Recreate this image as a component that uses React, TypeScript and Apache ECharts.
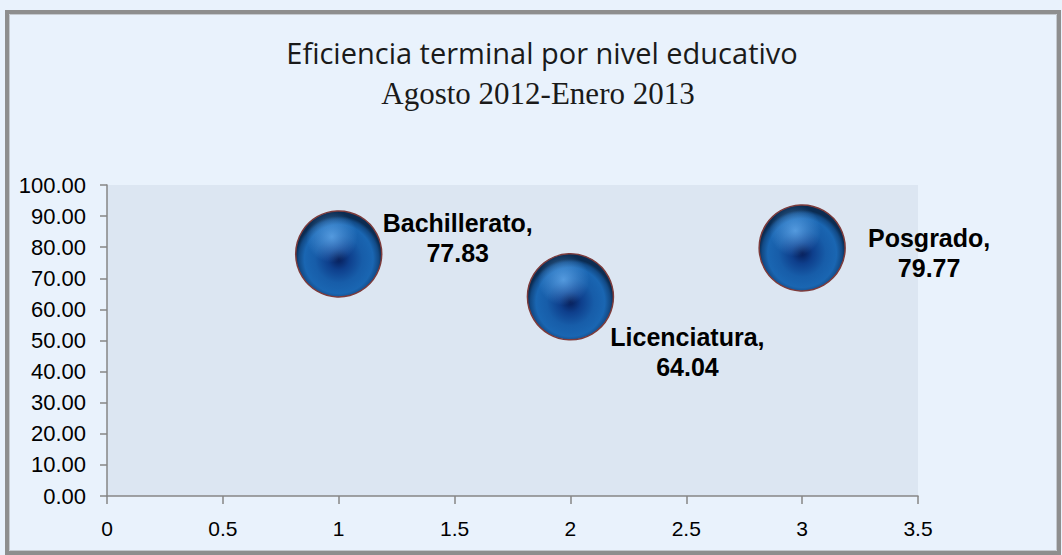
import React, { useEffect, useRef } from "react";
import * as echarts from "echarts";

const categories = ["Bachillerato", "Licenciatura", "Posgrado"];
const xValues = [1, 2, 3];
const yValues = [77.83, 64.04, 79.77];
const titleText = "Eficiencia terminal por nivel educativo";
const subtitleText = "Agosto 2012-Enero 2013";

const labelOffsets = [
  [119, -16],
  [117, 55],
  [127, 5],
];

export default function App() {
  const ref = useRef<HTMLDivElement>(null);
  useEffect(() => {
    if (!ref.current) return;
    const chart = echarts.init(ref.current, undefined, { renderer: "svg" });
    const data = categories.map((name, i) => ({
      name,
      value: [xValues[i], yValues[i]],
      label: { offset: labelOffsets[i] },
    }));
    const hlData = categories.map((name, i) => ({ name, value: [xValues[i], yValues[i]] }));
    chart.setOption({
      animation: false,
      backgroundColor: "#e9f2fc",
      graphic: [
        {
          type: "rect",
          z: -10,
          shape: { x: 7, y: 12, width: 1052, height: 541 },
          style: { fill: "#e9f2fc", stroke: "#8e8e8e", lineWidth: 4 },
        },
        {
          type: "rect",
          z: -9,
          shape: { x: 9.5, y: 14.5, width: 1047, height: 536 },
          style: { fill: "none", stroke: "#c4c9cf", lineWidth: 1 },
        },
      ],
      title: [
        {
          text: titleText,
          left: 537,
          textAlign: "center",
          top: 33,
          textStyle: { fontFamily: "Open Sans", fontWeight: "normal", fontSize: 29, color: "#1a1a1a" },
        },
        {
          text: subtitleText,
          left: 533,
          textAlign: "center",
          top: 73,
          textStyle: { fontFamily: "Liberation Serif", fontWeight: "normal", fontSize: 31, color: "#1a1a1a" },
        },
      ],
      grid: {
        left: 107,
        right: 144,
        top: 185,
        bottom: 59,
        show: true,
        backgroundColor: "#dce6f2",
        borderWidth: 0,
      },
      xAxis: {
        type: "value",
        min: 0,
        max: 3.5,
        interval: 0.5,
        splitLine: { show: false },
        axisLine: { show: true, lineStyle: { color: "#868686", width: 1.5 } },
        axisTick: { show: true, length: 8, lineStyle: { color: "#868686", width: 1.5 } },
        axisLabel: {
          margin: 22,
          fontFamily: "Liberation Sans",
          fontSize: 21,
          color: "#000",
          formatter: (v: number) => String(v),
        },
      },
      yAxis: {
        type: "value",
        min: 0,
        max: 100,
        interval: 10,
        splitLine: { show: false },
        axisLine: { show: true, lineStyle: { color: "#868686", width: 1.5 } },
        axisTick: { show: true, length: 7, lineStyle: { color: "#868686", width: 1.5 } },
        axisLabel: {
          margin: 21,
          fontFamily: "Liberation Sans",
          fontSize: 22,
          color: "#000",
          formatter: (v: number) => v.toFixed(2),
        },
      },
      series: [
        {
          type: "scatter",
          symbol: "circle",
          symbolSize: 86,
          data,
          itemStyle: {
            opacity: 1,
            color: {
              type: "radial",
              x: 0.5,
              y: 0.56,
              r: 0.5,
              colorStops: [
                { offset: 0, color: "#061d58" },
                { offset: 0.25, color: "#0e3f8c" },
                { offset: 0.55, color: "#175da9" },
                { offset: 0.8, color: "#1a66b2" },
                { offset: 0.93, color: "#124a86" },
                { offset: 1, color: "#0b2c52" },
              ],
            },
            borderColor: "#7d3b3b",
            borderWidth: 1.5,
          },
          label: {
            show: true,
            position: "inside",
            align: "center",
            verticalAlign: "middle",
            fontFamily: "Liberation Sans",
            fontWeight: "bold",
            fontSize: 25,
            lineHeight: 30,
            color: "#000000",
            textBorderWidth: 0,
            formatter: (p: any) => `${p.name},\n${p.value[1].toFixed(2)}`,
          },
          z: 2,
        },
        {
          type: "scatter",
          symbol: "circle",
          symbolSize: 86,
          silent: true,
          data: hlData,
          itemStyle: {
            opacity: 1,
            color: {
              type: "radial",
              x: 0.42,
              y: 0.3,
              r: 0.3,
              colorStops: [
                { offset: 0, color: "rgba(110,180,245,0.7)" },
                { offset: 1, color: "rgba(110,180,245,0)" },
              ],
            },
          },
          label: { show: false },
          z: 3,
        },
      ],
    });
    return () => chart.dispose();
  }, []);
  return (
    <div
      ref={ref}
      style={{ position: "absolute", left: 0, top: 0, width: 1062, height: 555 }}
    />
  );
}
